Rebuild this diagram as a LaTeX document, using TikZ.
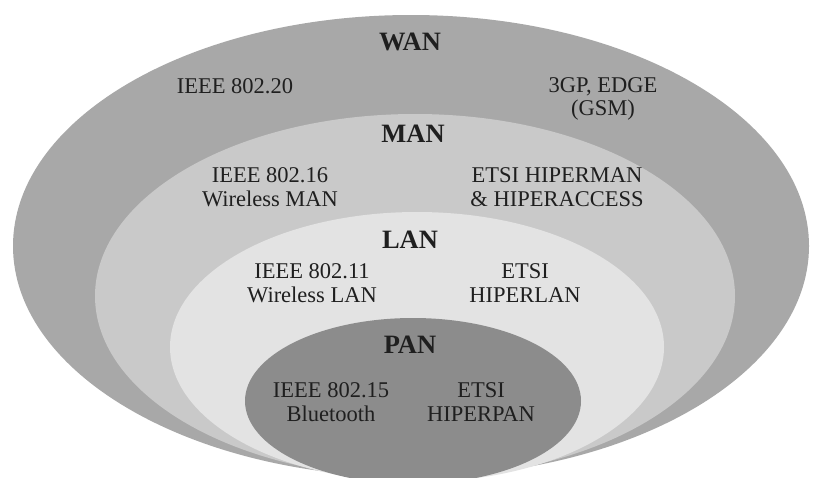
\documentclass[tikz,border=0pt]{standalone}
\usepackage{fontspec}
\setmainfont{Liberation Serif}
\usepackage{xcolor}
\usepackage{tikz}
\usetikzlibrary{positioning}

\definecolor{wanfill}{gray}{0.66}
\definecolor{manfill}{gray}{0.79}
\definecolor{lanfill}{gray}{0.89}
\definecolor{panfill}{gray}{0.55}
\definecolor{inktext}{gray}{0.12}

\begin{document}
\begin{tikzpicture}[
  x=1pt, y=-1pt,
  tag/.style   ={align=center, inner sep=0pt, text=inktext,
                 font=\fontsize{22.5}{23.5}\selectfont},
  title/.style ={inner sep=0pt, text=inktext,
                 font=\fontsize{26.5}{28}\selectfont\bfseries},
]

\clip (0,0) rectangle (819,477);
\fill[white] (0,0) rectangle (819,477);

% ---------- nested zones ----------
\fill[wanfill] (411,246) ellipse [x radius=398pt, y radius=231pt];
\fill[manfill] (415,296) ellipse [x radius=320pt, y radius=182pt];
\fill[lanfill] (417,347) ellipse [x radius=247pt, y radius=135pt];
\fill[panfill] (413,401) ellipse [x radius=168pt, y radius=83pt];

% ---------- WAN ----------
\node[title] (wan)      at (410,42)  {WAN};
\node[tag]   (ieee20)   at (235,86)  {IEEE 802.20};
\node[tag]   (gsm)      at (603,99)  {3GP, EDGE\\(GSM)};

% ---------- MAN ----------
\node[title] (man)      at (413,134) {MAN};
\node[tag]   (ieee16)   at (270,187) {IEEE 802.16\\Wireless MAN};
\node[tag]   (hiperman) at (557,187) {ETSI HIPERMAN\\\& HIPERACCESS};

% ---------- LAN ----------
\node[title] (lan)      at (410,240) {LAN};
\node[tag]   (ieee11)   at (312,283) {IEEE 802.11\\Wireless LAN};
\node[tag]   (hiperlan) at (525,283) {ETSI\\HIPERLAN};

% ---------- PAN ----------
\node[title] (pan)      at (410,345) {PAN};
\node[tag]   (ieee15)   at (331,402) {IEEE 802.15\\Bluetooth};
\node[tag]   (hiperpan) at (481,402) {ETSI\\HIPERPAN};

\end{tikzpicture}
\end{document}
